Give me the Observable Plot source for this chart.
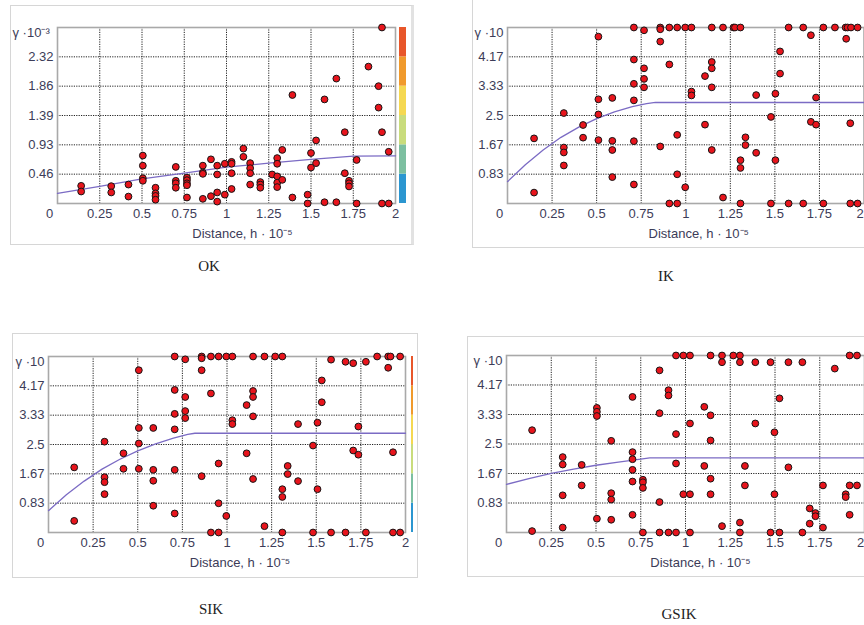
<!DOCTYPE html>
<html>
<head>
<meta charset="utf-8">
<script src="https://cdn.jsdelivr.net/npm/d3@7"></script>
<script src="https://cdn.jsdelivr.net/npm/@observablehq/plot@0.6"></script>
<style>
  html, body { margin: 0; padding: 0; background: #fff; overflow: hidden; }
  #wrap { position: relative; width: 864px; height: 625px; overflow: hidden; background: #fff; }
  .frame { position: absolute; box-sizing: border-box; border: 1px solid #d6d6d6; }
  .cap { position: absolute; font-family: "Liberation Serif", "Times New Roman", serif; font-size: 15px; color: #222; transform: translate(-50%, -50%); white-space: nowrap; }
</style>
</head>
<body>
<div id="wrap"></div>
<script>
// ---------- data ----------
const xTicks = [0.25, 0.5, 0.75, 1, 1.25, 1.5, 1.75, 2];
const xTickLabels = ["0.25", "0.5", "0.75", "1", "1.25", "1.5", "1.75", "2"];

const okYTicks = [0.465, 0.93, 1.395, 1.86, 2.325];
const okYLabels = ["0.46", "0.93", "1.39", "1.86", "2.32"];
const okYMax = 2.79;
const ikYTicks = [0.833, 1.667, 2.5, 3.333, 4.167];
const ikYLabels = ["0.83", "1.67", "2.5", "3.33", "4.17"];
const ikYMax = 5;

const okPoints = [
  [0.14,0.28],[0.14,0.19],[0.318,0.275],[0.318,0.175],[0.42,0.30],[0.42,0.11],
  [0.505,0.76],[0.505,0.60],[0.505,0.40],[0.505,0.36],
  [0.58,0.25],[0.58,0.16],[0.58,0.12],[0.58,0.06],
  [0.70,0.58],[0.70,0.36],[0.70,0.32],[0.70,0.25],
  [0.766,0.41],[0.766,0.37],[0.766,0.32],[0.766,0.29],[0.766,0.095],
  [0.86,0.60],[0.86,0.49],[0.86,0.47],[0.86,0.074],
  [0.908,0.70],[0.908,0.116],[0.945,0.60],[0.945,0.46],[0.945,0.175],[0.945,0.03],
  [0.99,0.63],[0.99,0.14],[1.03,0.66],[1.03,0.63],[1.03,0.48],[1.03,0.23],
  [1.10,0.87],[1.10,0.74],[1.14,0.64],[1.14,0.56],[1.14,0.48],[1.14,0.30],
  [1.20,0.34],[1.20,0.30],[1.20,0.25],[1.27,0.46],
  [1.30,0.72],[1.30,0.63],[1.30,0.43],[1.30,0.33],[1.30,0.26],
  [1.33,0.85],[1.33,0.375],[1.39,1.72],[1.39,0.095],[1.48,0.14],[1.48,0.0],
  [1.50,0.80],[1.50,0.57],[1.53,1.00],[1.53,0.64],[1.58,1.65],[1.58,0.02],
  [1.65,1.98],[1.65,0.02],[1.70,1.13],[1.70,0.48],[1.725,0.36],[1.725,0.32],[1.725,0.27],
  [1.77,0.69],[1.77,0.0],[1.84,2.17],[1.90,1.86],[1.90,1.52],[1.92,2.79],[1.92,1.13],
  [1.92,0.0],[1.96,0.0],[1.96,0.82]
];
const okModel = [[0,0.16],[0.25,0.27],[0.5,0.39],[0.75,0.48],[1,0.575],[1.25,0.64],[1.5,0.70],[1.75,0.75],[2,0.755]];

const ikPoints = [
  [0.149,1.85],[0.149,0.31],[0.316,2.57],[0.316,1.59],[0.316,1.45],[0.316,1.08],
  [0.424,2.23],[0.424,1.87],[0.51,4.74],[0.51,2.96],[0.51,2.53],[0.51,1.80],
  [0.588,3.00],[0.588,1.78],[0.588,1.52],[0.588,0.75],
  [0.709,5],[0.709,4.09],[0.709,3.40],[0.709,2.93],[0.709,1.77],[0.709,0.54],
  [0.766,4.92],[0.766,3.84],[0.766,3.54],[0.766,3.30],
  [0.857,5],[0.857,4.95],[0.857,4.60],[0.857,1.62],
  [0.908,5],[0.908,3.95],[0.908,0],[0.952,5],[0.952,1.95],[0.952,0.83],[0.952,0],
  [0.997,5],[0.997,0.46],[1.032,5],[1.032,3.18],[1.032,3.07],
  [1.108,3.62],[1.108,2.24],[1.146,5],[1.146,4.02],[1.146,3.84],[1.146,3.30],[1.146,1.52],
  [1.209,5],[1.209,0.17],[1.268,5],[1.276,5],[1.307,5],[1.307,1.23],[1.307,1.01],[1.307,0],
  [1.335,1.88],[1.335,1.66],[1.395,3.08],[1.395,1.44],[1.478,2.46],[1.478,0],
  [1.503,3.12],[1.503,1.23],[1.529,4.32],[1.529,3.69],[1.577,5],[1.577,0],
  [1.659,5],[1.659,0],[1.702,4.78],[1.702,2.32],[1.731,3.01],[1.731,2.24],
  [1.772,5],[1.772,0],[1.837,5],[1.897,5],[1.908,5],[1.90,4.68],[1.927,5],
  [1.923,2.28],[1.923,0],[1.964,5],[1.964,0]
];
const ikModel = [[0,0.62],[0.1,1.1],[0.2,1.52],[0.3,1.88],[0.4,2.17],[0.5,2.41],[0.6,2.6],[0.7,2.75],[0.78,2.84],[0.83,2.87],[2,2.87]];

const sikPoints = [
  [0.144,1.85],[0.144,0.33],[0.314,2.58],[0.314,1.57],[0.314,1.43],[0.314,1.09],
  [0.42,2.25],[0.42,1.81],[0.506,4.61],[0.506,2.97],[0.506,2.53],[0.506,1.81],
  [0.587,2.97],[0.587,1.78],[0.587,1.47],[0.587,0.76],
  [0.707,5],[0.707,4.05],[0.707,3.37],[0.707,2.93],[0.707,1.78],[0.707,0.54],
  [0.766,4.92],[0.766,3.85],[0.766,3.45],[0.766,3.25],
  [0.858,5],[0.858,4.95],[0.858,4.61],[0.858,1.60],
  [0.91,5],[0.91,3.95],[0.91,0],[0.953,5],[0.953,1.96],[0.953,0.83],[0.953,0],
  [0.996,5],[0.996,0.47],[1.03,5],[1.03,3.19],[1.03,3.08],
  [1.11,3.62],[1.11,2.25],[1.146,5],[1.146,4.02],[1.146,3.85],[1.146,3.30],[1.146,1.52],
  [1.21,5],[1.21,0.18],[1.27,5],[1.31,5],[1.31,1.23],[1.31,1.01],[1.31,0],
  [1.34,1.89],[1.34,1.66],[1.398,3.08],[1.398,1.46],[1.482,2.47],[1.482,0],
  [1.507,3.12],[1.507,1.23],[1.531,4.32],[1.531,3.70],[1.583,4.91],[1.583,0],
  [1.664,4.85],[1.664,0],[1.707,4.81],[1.707,2.33],[1.736,3.01],[1.736,2.21],
  [1.778,4.85],[1.778,0],[1.841,5],[1.903,5],[1.916,5],[1.903,4.68],
  [1.93,2.28],[1.93,0],[1.97,5],[1.97,0]
];
const sikModel = [[0,0.62],[0.1,1.07],[0.2,1.46],[0.3,1.8],[0.4,2.08],[0.5,2.32],[0.6,2.52],[0.7,2.68],[0.78,2.79],[0.82,2.82],[2,2.82]];

const gsikPoints = [
  [0.143,2.89],[0.143,0.04],[0.314,2.13],[0.314,1.92],[0.314,1.05],[0.314,0.14],
  [0.42,1.91],[0.42,1.33],[0.505,3.52],[0.505,3.41],[0.505,3.29],[0.505,0.39],
  [0.585,2.59],[0.585,1.11],[0.585,0.93],[0.585,0.36],
  [0.704,3.83],[0.704,2.27],[0.704,2.07],[0.704,1.77],[0.704,1.44],[0.704,0.50],
  [0.762,1.49],[0.762,1.42],[0.762,1.26],[0.762,0],
  [0.855,4.58],[0.855,3.37],[0.855,0.86],[0.855,0],
  [0.905,4.02],[0.905,3.87],[0.905,0],
  [0.947,5],[0.947,2.78],[0.947,1.95],[0.947,0],
  [0.988,5],[0.988,1.08],[1.025,5],[1.025,3.08],[1.025,1.08],[1.025,0],
  [1.105,3.55],[1.105,1.88],[1.14,5],[1.14,3.31],[1.14,2.60],[1.14,1.52],[1.14,1.08],
  [1.204,5],[1.204,4.81],[1.204,0.18],[1.267,5],[1.304,5],[1.304,4.81],[1.304,0.28],[1.304,0],
  [1.332,1.88],[1.332,1.33],[1.39,4.81],[1.39,3.08],[1.475,4.81],[1.475,0],
  [1.497,2.83],[1.497,1.08],[1.525,3.79],[1.525,0],[1.575,4.81],[1.575,1.84],
  [1.653,4.81],[1.653,0],[1.694,0.68],[1.694,0.25],[1.726,0.55],[1.726,0.46],
  [1.768,1.33],[1.768,0.14],[1.834,4.63],[1.895,1.08],[1.895,1.00],
  [1.917,5],[1.958,5],[1.917,1.33],[1.958,1.33],[1.917,0.50]
];
const gsikModel = [[0,1.36],[0.125,1.52],[0.25,1.67],[0.375,1.79],[0.5,1.90],[0.625,1.99],[0.75,2.07],[0.8,2.11],[2,2.11]];

const bandColors = ["#2b96d0", "#7cbfa0", "#c9dc7c", "#f5d851", "#f09a2c", "#e8562a"];
const captions = ["OK", "IK", "SIK", "GSIK"];

// ---------- drawing ----------
const wrap = document.getElementById("wrap");
const labelColor = "#3c3c58";
const font = "'Liberation Sans', Arial, sans-serif";

function place(el, left, top) {
  el.style.position = "absolute";
  el.style.left = left + "px";
  el.style.top = top + "px";
  wrap.appendChild(el);
}
function box(left, top, w, h, extra) {
  const d = document.createElement("div");
  d.className = "frame";
  d.style.left = left + "px"; d.style.top = top + "px";
  d.style.width = w + "px"; d.style.height = h + "px";
  if (extra) Object.assign(d.style, extra);
  wrap.appendChild(d);
}
function caption(text, cx, cy) {
  const d = document.createElement("div");
  d.className = "cap";
  d.textContent = text;
  d.style.left = cx + "px"; d.style.top = cy + "px";
  wrap.appendChild(d);
}

function panel(cfg) {
  const yTicks = cfg.yTicks, yLabels = cfg.yLabels;
  const innerTicks = xTicks.slice(0, -1);
  const lastTick = xTicks.slice(-1);
  const axisStyle = {tickSize: 0, tickPadding: 5, fontSize: 13, fill: labelColor, label: null};
  const marks = [
    Plot.gridX(innerTicks, {stroke: "#222", strokeOpacity: 1, strokeDasharray: "1.2,1.2", strokeWidth: 1}),
    Plot.gridY(yTicks, {stroke: "#222", strokeOpacity: 1, strokeDasharray: "1.2,1.2", strokeWidth: 1}),
    Plot.frame({stroke: "#a9a9a9", strokeWidth: 1.6}),
    Plot.axisX(innerTicks, {...axisStyle, tickFormat: d => xTickLabels[xTicks.indexOf(d)]}),
    Plot.axisX(lastTick, {...axisStyle, dx: cfg.lastDx, tickFormat: d => xTickLabels[xTicks.indexOf(d)]}),
    Plot.axisX([0], {...axisStyle, dx: -8, tickFormat: d => "0"}),
    Plot.axisY(yTicks, {tickSize: 0, tickPadding: 4, fontSize: 13, fill: labelColor, label: null,
      tickFormat: d => yLabels[yTicks.indexOf(d)]}),
    Plot.text([cfg.topLabel], {frameAnchor: "top-left",
      textAnchor: cfg.topAnchorStart ? "start" : "end", dx: cfg.topDx, fontSize: 13, fill: labelColor}),
    Plot.text(["Distance, h · 10⁻⁵"], {frameAnchor: "bottom", dy: 34, dx: cfg.xLabelDx, fontSize: 13, fill: labelColor}),
    Plot.line(cfg.model, {x: d => d[0], y: d => d[1], stroke: "#7b6bc4", strokeWidth: 1.3}),
    Plot.dot(cfg.points, {x: d => d[0], y: d => d[1], r: 3.4, fill: "#e8141c", stroke: "#151515", strokeWidth: 1})
  ];
  const chart = Plot.plot({
    width: cfg.width, height: cfg.height,
    marginLeft: cfg.ml, marginRight: cfg.mr, marginTop: cfg.mt, marginBottom: cfg.mb,
    x: {domain: [0, 2]},
    y: {domain: [0, cfg.yMax]},
    style: {fontFamily: font, fontSize: "13px", background: "transparent", overflow: "visible"},
    marks
  });
  place(chart, cfg.left, cfg.top);
  return chart;
}

function colorBar(left, top, w, h, yMax, ticks) {
  const edges = [0, ...ticks, yMax];
  const bands = bandColors.map((c, i) => ({lo: edges[i], hi: edges[i + 1], color: c}));
  const bar = Plot.plot({
    width: w, height: h, margin: 0,
    x: {axis: null}, y: {axis: null, domain: [0, yMax]},
    style: {background: "transparent"},
    marks: [Plot.rect(bands, {y1: "lo", y2: "hi", fill: "color"})]
  });
  place(bar, left, top);
}

// panel outer frames
box(10, 5, 404, 240, {borderRight: "3px solid #e2e2e2"});
box(472, -2, 400, 250, {borderTop: "none"});
box(12, 333, 406, 245);
box(467, 336, 400, 241);

// OK
panel({left: 10, top: 5, width: 404, height: 240, ml: 47, mr: 19, mt: 22, mb: 42, lastDx: 0,
  yTicks: okYTicks, yLabels: okYLabels, yMax: okYMax, points: okPoints, model: okModel,
  topLabel: "γ ·10⁻³", topAnchorStart: true, topDx: -45, xLabelDx: 16});
colorBar(399, 27, 7, 176, okYMax, okYTicks);

// IK
panel({left: 472, top: 8, width: 400, height: 240, ml: 35, mr: 8.5, mt: 19, mb: 45, lastDx: -4,
  yTicks: ikYTicks, yLabels: ikYLabels, yMax: ikYMax, points: ikPoints, model: ikModel,
  topLabel: "γ ·10", topAnchorStart: false, topDx: -4, xLabelDx: 13});

// SIK
panel({left: 12, top: 334, width: 406, height: 244, ml: 36, mr: 13, mt: 22, mb: 46, lastDx: 0,
  yTicks: ikYTicks, yLabels: ikYLabels, yMax: ikYMax, points: sikPoints, model: sikModel,
  topLabel: "γ ·10", topAnchorStart: false, topDx: -4, xLabelDx: 13});
colorBar(411, 356, 2, 176, ikYMax, ikYTicks);

// GSIK
panel({left: 467, top: 336, width: 400, height: 241, ml: 39, mr: 3, mt: 19, mb: 45, lastDx: -4,
  yTicks: ikYTicks, yLabels: ikYLabels, yMax: ikYMax, points: gsikPoints, model: gsikModel,
  topLabel: "γ ·10", topAnchorStart: false, topDx: -4, xLabelDx: 15});

caption(captions[0], 209, 266);
caption(captions[1], 666, 276);
caption(captions[2], 211, 609);
caption(captions[3], 679, 614);
</script>
</body>
</html>
